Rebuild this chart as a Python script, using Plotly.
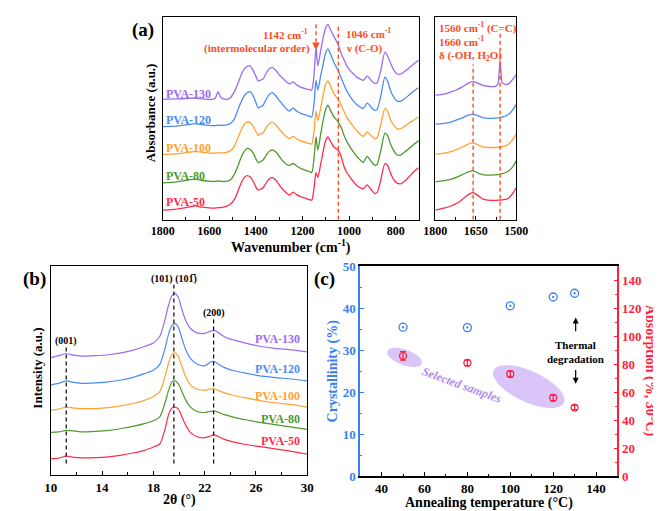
import numpy as np
import plotly.graph_objects as go

W, H = 661, 511
FONT = "Liberation Serif"

samples = ["PVA-50", "PVA-80", "PVA-100", "PVA-120", "PVA-130"]
colors = ["#ff2d4b", "#4e9a2c", "#ffa133", "#4a8cf7", "#9b6bf2"]
ann_color = "#ff4b1f"
blue_c = "#3a7ff0"
red_c = "#ff1f3d"

# ---------------- FTIR (a) main panel ----------------
ftir_wn = [1800, 1740, 1690, 1660, 1630, 1590, 1575, 1562, 1550, 1530,
           1510, 1492, 1476, 1462, 1448, 1436, 1424, 1412, 1400, 1390,
           1380, 1370, 1358, 1345, 1330, 1315, 1300, 1285, 1268, 1255,
           1240, 1225, 1205, 1185, 1168, 1160, 1150, 1142, 1134, 1122,
           1110, 1100, 1091, 1080, 1065, 1050, 1040, 1030, 1020, 1008,
           995, 980, 967, 952, 939, 922, 905, 890, 880, 865,
           846, 835, 823, 810, 795, 780, 760, 740, 720, 702]
ftir_50 = [10, 11, 13, 14.5, 13, 12, 12, 12.5, 12.5, 13.5,
           16, 21, 30, 38.5, 44, 45.5, 44, 40, 34, 30.5,
           31.5, 32.7, 37, 41.5, 43.8, 41, 36, 31.5, 27.5, 25.5,
           28.5, 26, 23.5, 22, 20.5, 20.3, 33, 48.7, 43.5, 57,
           72, 82, 85.3, 81, 75, 72.5, 69, 62, 54, 48,
           43.7, 39, 35.3, 33, 32, 36, 31, 27.2, 28, 40,
           58, 56, 48.7, 42, 38, 37, 40, 45, 50, 53.7]
ftir_80 = [38, 39, 41, 42, 40.5, 39.5, 39.5, 40, 39.7, 39.5,
           41, 47, 56, 65, 71, 73.5, 72.5, 69, 63, 58.7,
           60, 61.3, 65.5, 70, 72, 70, 65.5, 61, 57, 56,
           58, 55.5, 52.7, 51, 49.5, 48.7, 64, 85.3, 72, 88,
           104, 114, 118, 113, 106, 102, 98, 93, 86, 80,
           74.7, 69.5, 65.3, 61.5, 59.3, 65.3, 60, 56.3, 57, 70,
           89.3, 87, 78.7, 72, 67, 66.5, 70, 74, 78, 81.3]
ftir_100 = [67.5, 68, 69.5, 70.5, 69.5, 68.7, 68.7, 69, 69, 69.3,
            71, 76, 85, 93, 99, 101, 100, 96.5, 91, 87,
            88.5, 89.3, 94, 98.5, 100.3, 98, 93.5, 89.3, 85.5, 83.7,
            86, 83.5, 81, 79.5, 78.5, 78, 92, 112, 102, 115,
            130, 140, 143, 138, 130, 125, 121, 116, 111, 105,
            100.3, 95.5, 92, 88, 86, 90.3, 86.5, 83.7, 84.5, 97,
            114.7, 112, 103.7, 98, 94, 93.7, 96.5, 100, 103, 106]
ftir_120 = [96, 96.5, 98, 99, 98, 97, 97, 97.5, 97.3, 97.5,
            99, 104, 114, 122, 128.5, 131, 132, 128, 121, 115.3,
            116.5, 117.7, 123, 128.5, 131, 128, 123, 118.7, 114, 112,
            115.3, 112, 109.3, 108, 106.5, 106, 120, 143.7, 133.7, 148,
            162, 172, 176, 171, 162, 155.3, 150, 144, 138, 132,
            127, 122, 118.7, 116, 114.7, 120.3, 116, 112.7, 113.5, 126,
            147, 143, 133.7, 127, 122.5, 122, 125, 129, 133, 136]
ftir_130 = [124, 124.5, 125, 125.5, 124.5, 124, 125, 132, 126, 124,
            125.5, 132, 141, 150, 156, 158, 158.7, 154, 148, 143,
            144, 144.7, 150, 155, 157, 154, 149.5, 146, 142, 140,
            142, 139, 136.5, 135, 134, 133.7, 150, 177, 158.7, 174,
            189, 198, 201.3, 196, 189, 182, 176, 169, 164, 158,
            153.7, 150, 147, 145, 143.7, 148, 143.5, 140.5, 141, 153,
            172.7, 169, 162, 155, 150.5, 150, 153, 157, 161, 164.3]
ftir_series = [ftir_50, ftir_80, ftir_100, ftir_120, ftir_130]
ftir_label_y = [18, 45, 74, 103, 130]

# ---------------- FTIR (a) sub panel ----------------
sub_wn = [1800, 1768, 1740, 1720, 1700, 1685, 1672, 1661, 1650, 1637, 1625, 1613,
          1595, 1578, 1568, 1564, 1560, 1556, 1552, 1542, 1530, 1518, 1510, 1500]
sub_50 = [10, 12, 14.5, 17, 21, 24.5, 27, 28, 26.5, 24, 21.5, 20.5,
          20, 20, 20.2, 20.3, 20.4, 20.4, 20.5, 21, 22, 25.5, 28.5, 33]
sub_80 = [39, 40.3, 42, 44, 46.5, 48.5, 50, 50.5, 49.5, 47.5, 46.5, 46,
          46, 46.3, 46.5, 46.7, 47, 47.2, 47.5, 48.5, 50, 53, 56, 61]
sub_100 = [67.5, 68.7, 70.5, 72.5, 75, 77, 78.7, 79.3, 78.3, 76.5, 75.2, 74.7,
           74.5, 74.5, 74.7, 74.8, 75, 75.1, 75.3, 76, 77.5, 81, 84, 88.5]
sub_120 = [98.5, 99.3, 101, 103, 105, 107, 108.3, 108.7, 108, 106.5, 105.3, 104.7,
           104.5, 104.8, 105, 105.2, 105.5, 105.7, 106, 106.7, 108.5, 111.5, 114.5, 119]
sub_130 = [128.5, 129.5, 132, 134, 137, 139.5, 141.5, 142.7, 141.5, 140, 138.5, 138,
           137.3, 137.5, 140, 150, 163.7, 150, 141, 139.5, 140, 143, 146, 149.5]
sub_series = [sub_50, sub_80, sub_100, sub_120, sub_130]

ftir_marks = [1142, 1046]
sub_marks = [1660, 1560]

# ---------------- XRD (b) ----------------
xrd_2t = [10, 10.6, 11.2, 11.8, 12.5, 13.5, 14.5, 15.5, 16.5, 17.3,
          18, 18.5, 18.9, 19.2, 19.45, 19.7, 19.95, 20.2, 20.5, 20.9,
          21.4, 22, 22.4, 22.75, 23.1, 23.6, 24.3, 25.2, 26.2, 27.5, 28.8, 30]
xrd_50 = [17, 17.5, 19.5, 18.3, 17.8, 18, 18.8, 20.5, 23, 25.5,
          29, 32, 47, 63, 69, 70, 68, 61, 52, 44,
          39.5, 38.5, 40, 41.5, 39.5, 36.5, 34, 31.5, 29.5, 27, 24.5, 21.5]
xrd_80 = [44, 44.5, 46, 45.5, 44.5, 45, 46, 48, 50.5, 53,
          56, 60, 74, 88, 96, 97, 94, 87, 78, 70,
          65.5, 64.5, 65.5, 66, 64.5, 62, 59.5, 57, 54.5, 52, 49.5, 47]
xrd_100 = [67, 68, 70, 69, 68.5, 68.5, 69.5, 71.5, 74, 77,
           81, 86, 101, 116, 124, 126, 122, 113, 102, 93,
           88.5, 87.5, 88.5, 89, 87, 84.5, 82, 79.5, 77, 74.5, 72.5, 70]
xrd_120 = [93, 94.5, 97, 95.5, 94.5, 95, 96, 98, 101, 104.5,
           108, 114, 130, 146, 154, 156, 152, 142, 130, 120,
           114.5, 112.5, 116, 117, 114, 110.5, 107.5, 105, 102.5, 100.5, 99, 97]
xrd_130 = [121, 123, 125, 123.5, 122.5, 123, 124, 126, 129, 132.5,
           136, 143, 160, 176, 185, 187, 183, 172, 160, 151,
           146.5, 146, 148, 149, 146.5, 142, 139, 136, 133, 130.5, 129, 127]
xrd_series = [xrd_50, xrd_80, xrd_100, xrd_120, xrd_130]
xrd_label_y = [35, 58, 81, 109, 140]
xrd_peaks = [11.2, 19.6, 22.7]
xrd_peak_names = ["(001)", "(101) (101\u0305)", "(200)"]
xrd_peak_top = [132, 196, 161]

# ---------------- (c) ----------------
anneal_T = [50, 80, 100, 120, 130]
crystallinity = [35.5, 35.4, 40.6, 42.7, 43.6]
absorption = [86, 81, 73, 56, 49]
absorption_err = [3, 2, 2, 2, 1.5]


def P(px, py):
    return px / W, 1 - py / H


fig = go.Figure()

for name, col, ys, ss, xs in zip(samples, colors, ftir_series, sub_series, xrd_series):
    fig.add_trace(go.Scatter(x=ftir_wn, y=ys, mode="lines", xaxis="x", yaxis="y",
                             line=dict(color=col, width=1.3, shape="spline", smoothing=0.7),
                             showlegend=False, hoverinfo="skip"))
    fig.add_trace(go.Scatter(x=sub_wn, y=ss, mode="lines", xaxis="x2", yaxis="y2",
                             line=dict(color=col, width=1.3, shape="spline", smoothing=0.7),
                             showlegend=False, hoverinfo="skip"))
    fig.add_trace(go.Scatter(x=xrd_2t, y=xs, mode="lines", xaxis="x3", yaxis="y3",
                             line=dict(color=col, width=1.2, shape="spline", smoothing=0.7),
                             showlegend=False, hoverinfo="skip"))

fig.add_trace(go.Scatter(x=anneal_T, y=crystallinity, mode="markers", xaxis="x4", yaxis="y4",
                         marker=dict(symbol="circle-open-dot", size=8, color=blue_c,
                                     line=dict(width=1.3, color=blue_c)),
                         showlegend=False))
fig.add_trace(go.Scatter(x=anneal_T, y=absorption, mode="markers", xaxis="x4", yaxis="y5",
                         marker=dict(symbol="circle-open", size=7, color=red_c,
                                     line=dict(width=1.3, color=red_c)),
                         error_y=dict(type="data", array=absorption_err, color=red_c,
                                      thickness=1.3, width=3),
                         showlegend=False))

tickfont = dict(family=FONT, size=12, color="black", weight="bold")
tickfont13 = dict(family=FONT, size=13, color="black", weight="bold")

ax_common = dict(showline=True, linecolor="black", linewidth=1.4, mirror=True,
                 showgrid=False, zeroline=False, ticks="inside", ticklen=4,
                 tickwidth=1.2, tickcolor="black")

xa = (148 / W, 414 / W)
xa2 = (431 / W, 515 / W)
ya = (1 - 211 / H, 1 - 2 / H)
xb = (32 / W, 298 / W)
yb = (1 - 474 / H, 1 - 259 / H)
xc = (353 / W, 620 / W)
yc = (1 - 475 / H, 1 - 259 / H)

fig.update_layout(
    width=W, height=H, autosize=False,
    margin=dict(l=0, r=0, t=0, b=0),
    paper_bgcolor="white", plot_bgcolor="white",
    font=dict(family=FONT, color="black"),
    xaxis=dict(domain=xa, anchor="y", range=[1800, 700], tick0=0, dtick=200,
               tickfont=tickfont,
               minor=dict(ticks="inside", ticklen=2.5, dtick=100, tick0=0, tickcolor="black"),
               **ax_common),
    yaxis=dict(domain=ya, anchor="x", range=[0, 209], showticklabels=False,
               **{**ax_common, "ticks": ""}),
    xaxis2=dict(domain=xa2, anchor="y2", range=[1800, 1500], tickvals=[1800, 1650, 1500],
                tickfont=tickfont,
                minor=dict(ticks="inside", ticklen=2.5, dtick=75, tick0=1500, tickcolor="black"),
                **ax_common),
    yaxis2=dict(domain=ya, anchor="x2", range=[0, 209], showticklabels=False,
                **{**ax_common, "ticks": ""}),
    xaxis3=dict(domain=xb, anchor="y3", range=[10, 30], tick0=10, dtick=4,
                tickfont=tickfont13,
                minor=dict(ticks="inside", ticklen=2.5, dtick=2, tick0=10, tickcolor="black"),
                **ax_common),
    yaxis3=dict(domain=yb, anchor="x3", range=[0, 215], showticklabels=False,
                **{**ax_common, "ticks": ""}),
    xaxis4=dict(domain=xc, anchor="y4", range=[30, 150], tick0=40, dtick=20,
                tickfont=tickfont13,
                minor=dict(ticks="inside", ticklen=2.5, dtick=10, tick0=30, tickcolor="black"),
                **{**ax_common, "linewidth": 1.6}),
    yaxis4=dict(domain=yc, anchor="x4", range=[0, 50], dtick=10,
                showline=True, linecolor=blue_c, linewidth=1.6, mirror=False,
                showgrid=False, zeroline=False, ticks="inside", ticklen=4, tickwidth=1.2,
                tickcolor=blue_c,
                tickfont=dict(family=FONT, size=13, color=blue_c, weight="bold"),
                minor=dict(ticks="inside", ticklen=2.5, dtick=5, tickcolor=blue_c)),
    yaxis5=dict(overlaying="y4", anchor="x4", side="right", range=[0, 150], dtick=20,
                showline=True, linecolor=red_c, linewidth=1.6,
                showgrid=False, zeroline=False, ticks="inside", ticklen=4, tickwidth=1.2,
                tickcolor=red_c,
                tickfont=dict(family=FONT, size=13, color=red_c, weight="bold"),
                minor=dict(ticks="inside", ticklen=2.5, dtick=10, tickcolor=red_c)),
)

shapes = []
# FTIR marker lines
shapes.append(dict(type="line", xref="x", yref="y", x0=ftir_marks[1], x1=ftir_marks[1],
                   y0=0, y1=202, line=dict(color=ann_color, width=1.4, dash="4px,3px")))
shapes.append(dict(type="line", xref="x", yref="y", x0=ftir_marks[0], x1=ftir_marks[0],
                   y0=183, y1=202, line=dict(color=ann_color, width=1.4, dash="4px,3px")))
shapes.append(dict(type="line", xref="x2", yref="y2", x0=sub_marks[0], x1=sub_marks[0],
                   y0=0, y1=160, line=dict(color=ann_color, width=1.4, dash="4px,3px")))
shapes.append(dict(type="line", xref="x2", yref="y2", x0=sub_marks[1], x1=sub_marks[1],
                   y0=0, y1=192, line=dict(color=ann_color, width=1.4, dash="4px,3px")))
# XRD lines
for xp, top in zip(xrd_peaks, xrd_peak_top):
    shapes.append(dict(type="line", xref="x3", yref="y3", x0=xp, x1=xp, y0=12, y1=top,
                       line=dict(color="black", width=1.2, dash="4px,3px")))


# ellipses in panel (c)
def ellipse_path(cx, cy, a_px, b_px, theta_deg):
    sx = (xc[1] - xc[0]) * W / 120.0
    sy = (yc[1] - yc[0]) * H / 150.0
    th = np.deg2rad(theta_deg)
    t = np.linspace(0, 2 * np.pi, 60)
    dx = a_px * np.cos(t) * np.cos(th) - b_px * np.sin(t) * np.sin(th)
    dy = a_px * np.cos(t) * np.sin(th) + b_px * np.sin(t) * np.cos(th)
    xs = cx + dx / sx
    ys = cy - dy / sy
    pts = ["%s%.3f,%.3f" % ("M" if i == 0 else "L", x, y) for i, (x, y) in enumerate(zip(xs, ys))]
    return " ".join(pts) + " Z"


for (cx, cy, a_, b_, th_) in [(50.7, 84.9, 19, 8, 20), (108.6, 64.0, 40, 16, 24.5)]:
    shapes.append(dict(type="path", xref="x4", yref="y5", path=ellipse_path(cx, cy, a_, b_, th_),
                       fillcolor="rgba(185,150,240,0.55)", line=dict(width=0), layer="below"))

fig.update_layout(shapes=shapes)

ann = []


def add_text(text, px, py, size=12, color="black", angle=0, xanchor="center", bold=True, italic=False):
    x, y = P(px, py)
    f = dict(family=FONT, size=size, color=color)
    if bold:
        f["weight"] = "bold"
    if italic:
        f["style"] = "italic"
    ann.append(dict(text=text, x=x, y=y, xref="paper", yref="paper", showarrow=False,
                    textangle=angle, xanchor=xanchor, yanchor="middle", font=f))


# panel labels and axis titles
add_text("(a)", 128, 15, size=19)
add_text("(b)", 15, 272, size=19)
add_text("(c)", 316, 272, size=19)
add_text("Absorbance (a.u.)", 135, 101, size=13, angle=-90)
add_text("Wavenumber (cm<sup>-1</sup>)", 281, 238, size=14)
add_text("Intensity (a.u.)", 18, 364, size=13, angle=-90)
add_text("2θ (°)", 165, 500, size=14)
add_text("Crystallinity (%)", 325, 367, size=14, color=blue_c, angle=-90)
add_text("Absorption (%, 30°C)", 653, 367, size=14, color=red_c, angle=90)
add_text("Annealing temperature (°C)", 487, 503, size=14)

# FTIR annotations
add_text("1142 cm<sup>-1</sup>", 301, 20, size=11, color=ann_color, xanchor="right")
add_text("(intermolecular order)", 303, 34, size=11, color=ann_color, xanchor="right")
add_text("1046 cm<sup>-1</sup>", 336, 19, size=11, color=ann_color, xanchor="left")
add_text("ν (C-O)", 336, 34, size=11, color=ann_color, xanchor="left")
add_text("1560 cm<sup>-1</sup> (C=C)", 433, 13, size=11, color=ann_color, xanchor="left")
add_text("1660 cm<sup>-1</sup>", 433, 27, size=11, color=ann_color, xanchor="left")
add_text("δ (-OH, H<sub>2</sub>O)", 433, 42, size=11, color=ann_color, xanchor="left")

ann.append(dict(x=ftir_marks[0], y=175, ax=ftir_marks[0], ay=183, xref="x", yref="y",
                axref="x", ayref="y", showarrow=True, arrowhead=2, arrowsize=1,
                arrowwidth=1.5, arrowcolor=ann_color, text=""))

# curve labels
for name, col, ly in zip(samples, colors, ftir_label_y):
    ann.append(dict(text=name, x=1793, y=ly, xref="x", yref="y", showarrow=False,
                    xanchor="left", yanchor="middle",
                    font=dict(family=FONT, size=12, color=col, weight="bold")))
for name, col, ly in zip(samples, colors, xrd_label_y):
    ann.append(dict(text=name, x=29.6, y=ly, xref="x3", yref="y3", showarrow=False,
                    xanchor="right", yanchor="middle",
                    font=dict(family=FONT, size=12, color=col, weight="bold")))
for xp, nm, top in zip(xrd_peaks, xrd_peak_names, xrd_peak_top):
    ann.append(dict(text=nm, x=xp, y=top + 6, xref="x3", yref="y3", showarrow=False,
                    xanchor="center", yanchor="middle",
                    font=dict(family=FONT, size=10, color="black", weight="bold")))

# panel (c) texts
ann.append(dict(text="Selected samples", x=77.3, y=64.8, xref="x4", yref="y5", showarrow=False,
                textangle=20, font=dict(family=FONT, size=12, color="#b08af0", weight="bold",
                                        style="italic")))
ann.append(dict(text="Thermal<br>degradation", x=130.5, y=89, xref="x4", yref="y5",
                showarrow=False, font=dict(family=FONT, size=11, color="black", weight="bold")))
ann.append(dict(x=130.5, y=113.5, ax=130.5, ay=102.5, xref="x4", yref="y5", axref="x4",
                ayref="y5", showarrow=True, arrowhead=2, arrowsize=1, arrowwidth=1.2,
                arrowcolor="black", text=""))
ann.append(dict(x=130.5, y=66, ax=130.5, ay=77, xref="x4", yref="y5", axref="x4",
                ayref="y5", showarrow=True, arrowhead=2, arrowsize=1, arrowwidth=1.2,
                arrowcolor="black", text=""))

fig.update_layout(annotations=ann)
fig.write_html("out.html")
